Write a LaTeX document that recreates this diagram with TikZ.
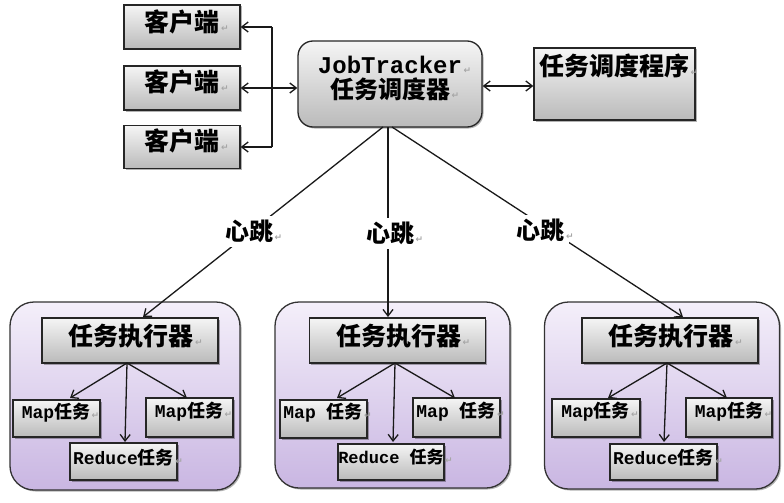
\documentclass[tikz,border=0pt]{standalone}
\usepackage{fontspec}
\newfontfamily\cjk{Noto Sans CJK SC}
\newfontfamily\monof{Liberation Mono}
\newfontfamily\djv{DejaVu Sans}
\usetikzlibrary{arrows.meta,shadows}
\newcommand{\pmark}{\rlap{\djv\fontsize{9}{9}\selectfont\color{black!35}\,↵}}
\definecolor{purpletop}{HTML}{F4EFFA}
\definecolor{purplebot}{HTML}{C9B6E2}
\tikzset{
  x=1pt, y=-1pt,
  arr/.style={-{Straight Barb[length=6.5pt,width=10pt]}, line width=1.3pt, draw=black!90},
  darr/.style={{Straight Barb[length=6.5pt,width=10pt]}-{Straight Barb[length=6.5pt,width=10pt]}, line width=1.3pt, draw=black!90},
  conn/.style={line width=1.3pt, draw=black!90},
  graybox/.style={draw=black!85, line width=1.3pt, top color=black!4, bottom color=black!27, inner sep=0pt,
    drop shadow={shadow xshift=1.5pt, shadow yshift=-1.5pt, opacity=0.3, fill=black}},
  group/.style={draw=black!80, line width=1.3pt, rounded corners=24pt, top color=purpletop, bottom color=purplebot, inner sep=0pt,
    drop shadow={shadow xshift=1.5pt, shadow yshift=-1.5pt, opacity=0.3, fill=black}},
  bigtxt/.style={font=\cjk\bfseries\fontsize{25}{28}\selectfont, inner sep=0pt},
  smalltxt/.style={font=\cjk\bfseries\fontsize{18}{20}\selectfont, inner sep=0pt},
  hb/.style={font=\cjk\bfseries\fontsize{24}{28}\selectfont, fill=white, inner sep=4pt},
}
\newcommand{\tm}[1]{{\monof\bfseries #1}}
\begin{document}
\begin{tikzpicture}
\useasboundingbox (0,0) rectangle (784,503);
% clients
\node[graybox, minimum width=116pt, minimum height=44pt] (c1) at (182,27) {};
\node[graybox, minimum width=116pt, minimum height=44pt] (c2) at (182,88) {};
\node[graybox, minimum width=116pt, minimum height=43pt] (c3) at (182,147) {};
\node[bigtxt] (c1t) at (182,21.5) {客户端\pmark};
\node[bigtxt] (c2t) at (182,82) {客户端\pmark};
\node[bigtxt] (c3t) at (182,141) {客户端\pmark};
% JobTracker
\node[graybox, rounded corners=15pt, minimum width=184pt, minimum height=86pt] (jt) at (390,84) {};
\node[bigtxt, align=center, font=\cjk\bfseries\fontsize{24}{25}\selectfont] (jtt) at (390,78) {\tm{JobTracker}\pmark\\任务调度器\pmark};
% scheduler program
\node[graybox, minimum width=161pt, minimum height=72pt] (sp) at (614.5,84) {};
\node[bigtxt] (spt) at (614,66) {任务调度程序\pmark};
% bracket
\coordinate (b1) at (272,27);
\coordinate (b3) at (272,147);
\draw[conn] (b1) -- (b3);
\draw[arr] (b1) -- (c1.east);
\draw[arr] (b3) -- (c3.east);
\draw[darr] (c2.east) -- (c2.east -| jt.west);
\draw[darr] (jt.east |- 0,86) -- (sp.west |- 0,86);
% groups
\node[group, minimum width=230pt, minimum height=188pt] (g1) at (125,396) {};
\node[group, minimum width=235pt, minimum height=186pt] (g2) at (392.5,395) {};
\node[group, minimum width=235pt, minimum height=187pt] (g3) at (662,395.5) {};
% executors
\foreach \n/\cx in {1/130, 2/397.5, 3/670} {
  \node[graybox, minimum width=176pt, minimum height=45pt] (e\n) at (\cx,340.5) {};
  \node[bigtxt] (e\n t) at (\cx+1,336) {任务执行器\pmark};
}
% tasks group 1
\node[graybox, minimum width=87pt, minimum height=37pt] (ml1) at (56.5,418.5) {};
\node[graybox, minimum width=87pt, minimum height=39pt] (mr1) at (189.5,417.5) {};
\node[graybox, minimum width=107pt, minimum height=37pt] (r1) at (123.5,461.5) {};
\node[smalltxt] (ml1t) at (56,412.5) {\tm{Map}任务\pmark};
\node[smalltxt] (mr1t) at (189,411.5) {\tm{Map}任务\pmark};
\node[smalltxt] (r1t) at (123.5,457.5) {\tm{Reduce}任务\pmark};
% tasks group 2
\node[graybox, minimum width=87pt, minimum height=38pt] (ml2) at (323.5,419) {};
\node[graybox, minimum width=87pt, minimum height=39pt] (mr2) at (456.5,417.5) {};
\node[graybox, minimum width=106pt, minimum height=36pt] (r2) at (391,462) {};
\node[smalltxt] (ml2t) at (323,412.5) {\tm{Map }任务\pmark};
\node[smalltxt] (mr2t) at (456,411.5) {\tm{Map }任务\pmark};
\node[smalltxt, font=\cjk\bfseries\fontsize{17}{20}\selectfont] (r2t) at (391,457.5) {\tm{Reduce }任务\pmark};
% tasks group 3
\node[graybox, minimum width=88pt, minimum height=38pt] (ml3) at (596,418) {};
\node[graybox, minimum width=86pt, minimum height=39pt] (mr3) at (729,417.5) {};
\node[graybox, minimum width=107pt, minimum height=36pt] (r3) at (663.5,462) {};
\node[smalltxt] (ml3t) at (595.5,412) {\tm{Map}任务\pmark};
\node[smalltxt] (mr3t) at (729,411.5) {\tm{Map}任务\pmark};
\node[smalltxt] (r3t) at (663.5,457.5) {\tm{Reduce}任务\pmark};
% inner arrows
\coordinate (o1) at (127,363);
\coordinate (o2) at (395,363);
\coordinate (o3) at (667,363);
\coordinate (t1a) at (70,398);  \coordinate (t1b) at (187,398);  \coordinate (t1c) at (125,442);
\coordinate (t2a) at (337,398); \coordinate (t2b) at (455,398);  \coordinate (t2c) at (393,442);
\coordinate (t3a) at (608,398); \coordinate (t3b) at (727,398);  \coordinate (t3c) at (664,442);
\foreach \n in {1,2,3} {
  \draw[arr] (o\n) -- (t\n a);
  \draw[arr] (o\n) -- (t\n b);
  \draw[arr] (o\n) -- (t\n c);
}
% heartbeat connectors
\coordinate (h1s) at (383,127);
\coordinate (h2s) at (388,127);
\coordinate (h3s) at (392,127);
\coordinate (h1e) at (143,317);
\coordinate (h2e) at (388,317);
\coordinate (h3e) at (683,317);
\draw[arr] (h1s) -- node[hb, pos=0.55, xshift=-2pt] (hb1) {心跳\pmark} (h1e);
\draw[arr] (h2s) -- node[hb, pos=0.56, xshift=2pt] (hb2) {心跳\pmark} (h2e);
\draw[arr] (h3s) -- node[hb, pos=0.545, xshift=-10pt] (hb3) {心跳\pmark} (h3e);
\end{tikzpicture}
\end{document}
